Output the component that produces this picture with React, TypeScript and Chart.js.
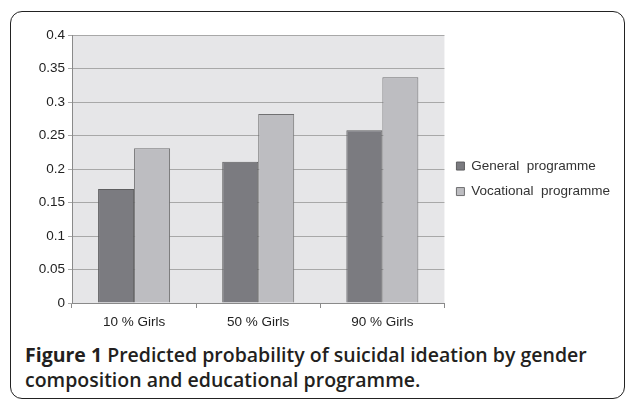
import React, { useEffect, useRef } from "react";
import { Chart, registerables } from "chart.js";

Chart.register(...registerables);

const categories = ["10 % Girls", "50 % Girls", "90 % Girls"];
const generalValues = [0.17, 0.211, 0.258];
const vocationalValues = [0.231, 0.282, 0.337];
const seriesNames = ["General  programme", "Vocational  programme"];
const yTickLabels = ["0", "0.05", "0.1", "0.15", "0.2", "0.25", "0.3", "0.35", "0.4"];

const FONT = "'Liberation Sans', Arial, sans-serif";

const plotBg = {
  id: "plotBg",
  beforeDraw(chart: any) {
    const { ctx, chartArea } = chart;
    if (!chartArea) return;
    ctx.save();
    ctx.fillStyle = "#e6e6e8";
    ctx.fillRect(chartArea.left, chartArea.top, chartArea.right - chartArea.left, chartArea.bottom - chartArea.top);
    ctx.restore();
  },
};

export default function App() {
  const ref = useRef<HTMLCanvasElement>(null);

  useEffect(() => {
    if (!ref.current) return;
    const chart = new Chart(ref.current, {
      type: "bar",
      data: {
        labels: categories,
        datasets: [
          {
            label: seriesNames[0],
            data: generalValues,
            backgroundColor: "#7b7b80",
            borderColor: "#5e5e60",
            borderWidth: 1,
          },
          {
            label: seriesNames[1],
            data: vocationalValues,
            backgroundColor: "#bdbdc1",
            borderColor: "#707072",
            borderWidth: 1,
          },
        ],
      },
      plugins: [plotBg],
      options: {
        responsive: false,
        animation: false,
        devicePixelRatio: 1,
        layout: { padding: { top: 35, left: 0, right: 9, bottom: 0 } },
        datasets: { bar: { barPercentage: 1, categoryPercentage: 0.58 } },
        plugins: {
          tooltip: { enabled: false },
          legend: {
            position: "right",
            align: "start",
            maxWidth: 220,
            title: { display: true, text: "", padding: { top: 0, bottom: 97.9 } },
            labels: {
              boxWidth: 8,
              boxHeight: 8,
              padding: 12,
              color: "#333",
              font: { family: FONT, size: 13.5 },
            },
          },
        },
        scales: {
          x: {
            offset: true,
            grid: { display: true, drawOnChartArea: false, offset: true, tickLength: 5, color: "#8a8a8a" },
            border: { color: "#8a8a8a" },
            ticks: { color: "#222", font: { family: FONT, size: 13.5 }, padding: 6 },
            afterFit: (s: any) => {
              s.height = 37;
            },
          },
          y: {
            min: 0,
            max: 0.4,
            grid: { color: "#a8a8a8", tickLength: 4 },
            border: { color: "#8a8a8a" },
            ticks: {
              stepSize: 0.05,
              color: "#222",
              padding: 3,
              font: { family: FONT, size: 13.5 },
              callback: (_v: any, i: number) => yTickLabels[i],
            },
            afterFit: (s: any) => {
              s.width = 72;
            },
          },
        },
      },
    });
    return () => chart.destroy();
  }, []);

  return (
    <div>
      <div
        style={{
          position: "absolute",
          left: 10,
          top: 11,
          width: 613,
          height: 386,
          border: "1.5px solid #222",
          borderRadius: 12,
        }}
      />
      <canvas
        ref={ref}
        width={629}
        height={340}
        style={{ position: "absolute", left: 0, top: 0, width: 629, height: 340 }}
      />
      <div
        style={{
          position: "absolute",
          left: 25,
          top: 342,
          width: 600,
          fontFamily: "'Open Sans', sans-serif",
          fontWeight: 600,
          fontSize: 19.5,
          lineHeight: "25px",
          color: "#231f20",
        }}
      >
        <span style={{ fontWeight: 700 }}>Figure 1</span> Predicted probability of suicidal ideation by gender
        composition and educational programme.
      </div>
    </div>
  );
}
